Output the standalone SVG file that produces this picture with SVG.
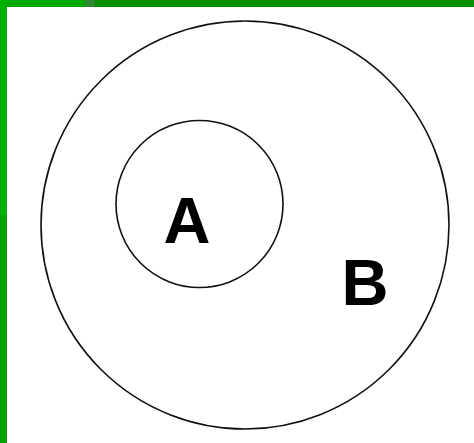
<svg xmlns="http://www.w3.org/2000/svg" width="474" height="443" viewBox="0 0 474 443">
<style>
.c{fill:none;stroke:#111;stroke-width:1.6}
.t{font-family:"Liberation Sans",Arial,sans-serif;font-weight:bold;font-size:65px;fill:#000;text-anchor:middle}
</style>
<rect width="474" height="443" fill="#fff"/>
<g id="border">
<rect x="0" y="0" width="85" height="7" fill="#00a800"/>
<rect x="85" y="0" width="10" height="7" fill="#2e8a2e"/>
<rect x="95" y="0" width="379" height="7" fill="#009000"/>
<rect x="0" y="0" width="7" height="215" fill="#00b000"/>
<rect x="0" y="215" width="7" height="228" fill="#00a000"/>
</g>
<g id="B">
<circle class="c" cx="245" cy="225" r="204"/>
<text class="t" x="365" y="305">B</text>
</g>
<g id="A">
<circle class="c" cx="199.5" cy="204" r="83.5"/>
<text class="t" x="187" y="243">A</text>
</g>
</svg>
